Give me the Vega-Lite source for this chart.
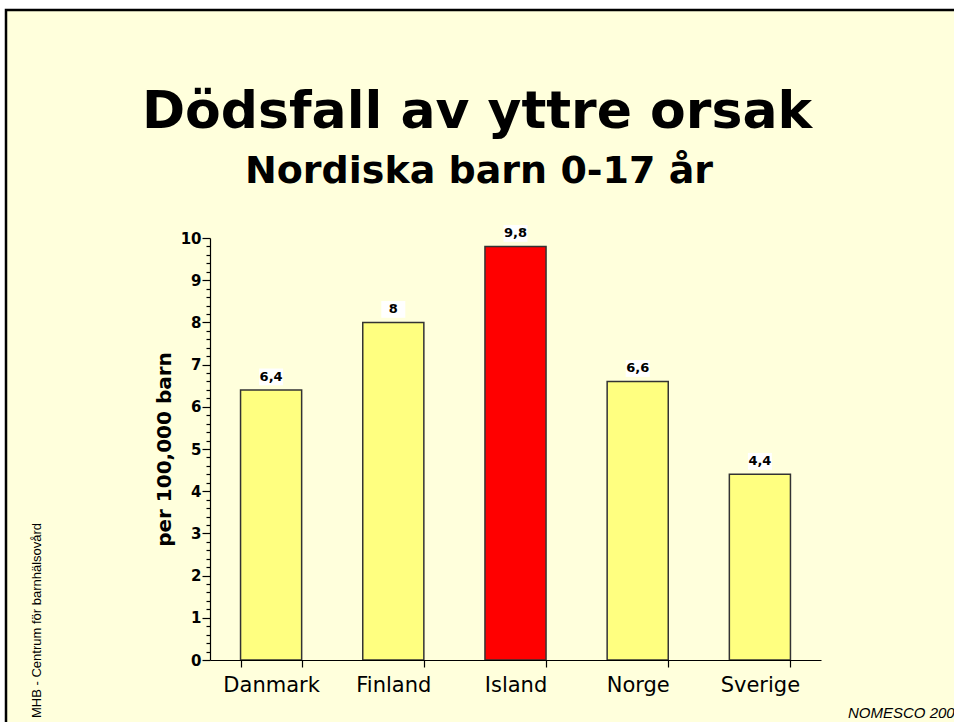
{
  "$schema": "https://vega.github.io/schema/vega-lite/v6.json",
  "autosize": "none",
  "width": 611,
  "height": 422,
  "padding": {"left": 210, "top": 238, "right": 133, "bottom": 62},
  "background": "#ffffff",
  "config": {
    "view": {"stroke": null}
  },
  "data": {
    "values": [
      {"Land": "Danmark", "Varde": 6.4, "Etikett": "6,4"},
      {"Land": "Finland", "Varde": 8.0, "Etikett": "8"},
      {"Land": "Island", "Varde": 9.8, "Etikett": "9,8"},
      {"Land": "Norge", "Varde": 6.6, "Etikett": "6,6"},
      {"Land": "Sverige", "Varde": 4.4, "Etikett": "4,4"}
    ]
  },
  "layer": [
    {
      "data": {"values": [{}]},
      "mark": {"type": "rect", "fill": "#ffffdc", "stroke": "#000000", "strokeWidth": 2.5},
      "encoding": {
        "x": {"value": -204},
        "x2": {"value": 760},
        "y": {"value": -228},
        "y2": {"value": 500}
      }
    },
    {
      "mark": {"type": "bar", "stroke": "#333333", "strokeWidth": 1.5},
      "encoding": {
        "x": {
          "field": "Land",
          "type": "nominal",
          "sort": null,
          "scale": {"paddingInner": 0.5, "paddingOuter": 0.25},
          "axis": {
            "zindex": 2,
            "title": null,
            "labelAngle": 0,
            "tickBand": "extent",
            "tickSize": 7,
            "tickWidth": 1.2,
            "domainWidth": 1.2,
            "domainColor": "#000000",
            "tickColor": "#000000",
            "labelColor": "#000000",
            "labelPadding": 7,
            "labelFont": "DejaVu Sans",
            "labelFontSize": 21,
            "labelFontWeight": "normal"
          }
        },
        "y": {
          "field": "Varde",
          "type": "quantitative",
          "scale": {"domain": [0, 10], "nice": false},
          "axis": {
            "zindex": 2,
            "title": "per 100,000 barn",
            "titleFont": "DejaVu Sans",
            "titleFontSize": 20,
            "titleFontWeight": "bold",
            "titleColor": "#000000",
            "titlePadding": 6,
            "grid": false,
            "domainWidth": 1.2,
            "domainColor": "#000000",
            "tickColor": "#000000",
            "tickWidth": 1.2,
            "labelColor": "#000000",
            "tickCount": 60,
            "values": [0,0.2,0.4,0.6,0.8,1,1.2,1.4,1.6,1.8,2,2.2,2.4,2.6,2.8,3,3.2,3.4,3.6,3.8,4,4.2,4.4,4.6,4.8,5,5.2,5.4,5.6,5.8,6,6.2,6.4,6.6,6.8,7,7.2,7.4,7.6,7.8,8,8.2,8.4,8.6,8.8,9,9.2,9.4,9.6,9.8,10],
            "labelExpr": "datum.value % 1 === 0 ? format(datum.value, 'd') : ''",
            "tickSize": {"condition": {"test": "datum.value % 1 === 0", "value": 8}, "value": 4},
            "labelOverlap": false,
            "labelFlush": false,
            "labelPadding": 1,
            "labelFont": "DejaVu Sans",
            "labelFontSize": 15,
            "labelFontWeight": "bold"
          }
        },
        "color": {
          "field": "Land",
          "type": "nominal",
          "scale": {"domain": ["Danmark", "Finland", "Island", "Norge", "Sverige"], "range": ["#ffff80", "#ffff80", "#ff0000", "#ffff80", "#ffff80"]},
          "legend": null
        }
      }
    },
    {
      "mark": {"type": "point", "shape": "M-1,-0.7H1V0.7H-1Z", "size": 576, "filled": true, "fill": "#ffffff", "opacity": 1, "strokeWidth": 0, "yOffset": -13},
      "encoding": {
        "x": {"field": "Land", "type": "nominal", "sort": null},
        "y": {"field": "Varde", "type": "quantitative"}
      }
    },
    {
      "mark": {"type": "text", "dy": -13, "font": "DejaVu Sans", "fontSize": 13, "fontWeight": "bold", "color": "#000000", "baseline": "middle"},
      "encoding": {
        "x": {"field": "Land", "type": "nominal", "sort": null},
        "y": {"field": "Varde", "type": "quantitative"},
        "text": {"field": "Etikett"}
      }
    },
    {
      "data": {"values": [{}]},
      "mark": {"type": "text", "text": "Dödsfall av yttre orsak", "font": "DejaVu Sans", "fontSize": 52, "fontWeight": "bold", "align": "center", "baseline": "alphabetic", "color": "#000000"},
      "encoding": {"x": {"value": 267}, "y": {"value": -110}}
    },
    {
      "data": {"values": [{}]},
      "mark": {"type": "text", "text": "Nordiska barn 0-17 år", "font": "DejaVu Sans", "fontSize": 38, "fontWeight": "bold", "align": "center", "baseline": "alphabetic", "color": "#000000"},
      "encoding": {"x": {"value": 269}, "y": {"value": -55}}
    },
    {
      "data": {"values": [{}]},
      "mark": {"type": "text", "text": "NOMESCO 2005", "font": "Liberation Sans", "fontStyle": "italic", "fontSize": 15, "align": "left", "baseline": "alphabetic", "color": "#000000"},
      "encoding": {"x": {"value": 638}, "y": {"value": 480}}
    },
    {
      "data": {"values": [{}]},
      "mark": {"type": "text", "text": "MHB - Centrum för barnhälsovård", "font": "Liberation Sans", "fontSize": 13, "angle": 270, "align": "left", "baseline": "middle", "color": "#000000"},
      "encoding": {"x": {"value": -173}, "y": {"value": 480}}
    }
  ]
}
